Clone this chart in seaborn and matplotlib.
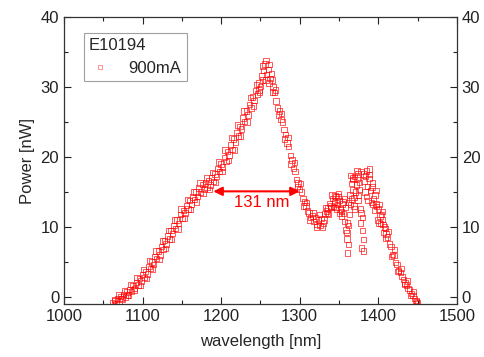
import matplotlib
matplotlib.use("Agg")
import matplotlib.pyplot as plt
import seaborn as sns
import pandas as pd
from matplotlib.ticker import MultipleLocator

wavelength_main = [
    1062, 1064, 1066, 1068, 1070, 1072, 1074, 1076, 1078, 1080,
    1082, 1084, 1086, 1088, 1090, 1092, 1094, 1096, 1098, 1100,
    1102, 1104, 1106, 1108, 1110, 1112, 1114, 1116, 1118, 1120,
    1122, 1124, 1126, 1128, 1130, 1132, 1134, 1136, 1138, 1140,
    1142, 1144, 1146, 1148, 1150, 1152, 1154, 1156, 1158, 1160,
    1162, 1164, 1166, 1168, 1170, 1172, 1174, 1176, 1178, 1180,
    1182, 1184, 1186, 1188, 1190, 1192, 1194, 1196, 1198, 1200,
    1202, 1204, 1206, 1208, 1210, 1212, 1214, 1216, 1218, 1220,
    1222, 1224, 1226, 1228, 1230, 1232, 1234, 1236, 1238, 1240,
    1242, 1244, 1246, 1248, 1250, 1252, 1254, 1256, 1258, 1260,
    1262, 1264, 1266, 1268, 1270, 1272, 1274, 1276, 1278, 1280,
    1282, 1284, 1286, 1288, 1290, 1292, 1294, 1296, 1298, 1300,
    1302, 1304, 1306, 1308, 1310, 1312, 1314, 1316, 1318, 1320,
    1322, 1324, 1326, 1328, 1330, 1332, 1334, 1336, 1338, 1340,
    1342, 1344, 1346, 1348, 1350, 1352, 1354, 1356, 1358, 1360,
    1362, 1364, 1366, 1368, 1370, 1372, 1374, 1376, 1378, 1380,
    1382, 1384, 1386, 1388, 1390, 1392, 1394, 1396, 1398, 1400,
    1402, 1404, 1406, 1408, 1410, 1412, 1414, 1416, 1418, 1420,
    1422, 1424, 1426, 1428, 1430, 1432, 1434, 1436, 1438, 1440,
    1442, 1444, 1446, 1448, 1450,
]
power_main = [
    -0.8, -0.5, -0.9, -0.2, -0.6, 0.1, -0.3, 0.4, 0.0, 0.7,
    0.3, 1.1, 0.8, 1.6, 1.2, 2.1, 1.7, 2.6, 2.3, 3.2,
    2.8, 3.6, 3.3, 4.4, 4.1, 5.0, 4.6, 5.8, 5.5, 6.6,
    6.0, 7.2, 6.8, 8.1, 7.6, 8.7, 8.3, 9.5, 9.1, 10.2,
    9.8, 11.0, 10.5, 11.8, 11.2, 12.4, 12.0, 13.1, 12.6, 13.8,
    13.2, 14.3, 13.9, 15.0, 14.4, 15.6, 15.0, 16.1, 15.4, 16.3,
    15.7, 16.6, 16.0, 17.1, 16.5, 17.6, 17.2, 18.4, 17.9, 19.0,
    18.6, 19.9, 19.4, 20.8, 20.3, 21.7, 21.1, 22.6, 22.1, 23.5,
    23.0, 24.4, 24.0, 25.6, 25.1, 26.6, 26.0, 27.5, 27.0, 28.6,
    28.1, 29.5, 29.0, 30.6, 30.1, 31.6, 32.4, 33.3, 31.8, 32.5,
    31.2, 31.9, 30.0, 29.2, 28.0, 27.0, 26.6, 25.4, 25.0, 23.9,
    23.2, 22.0, 21.5, 20.2, 19.6, 18.4, 17.9, 16.8, 16.3, 15.4,
    15.0, 14.1, 13.6, 13.0, 12.3, 12.0, 11.4, 11.6, 10.8, 11.3,
    10.4, 11.0, 10.2, 11.2, 10.6, 11.9, 12.3, 12.7, 13.4, 13.0,
    14.1, 13.6, 14.3, 13.2, 13.8, 12.6, 13.3, 11.9, 12.8, 8.3,
    13.5, 14.6, 16.2, 15.3, 17.2, 16.0, 17.6, 16.4, 17.9, 9.5,
    16.6, 17.3, 15.8, 16.9, 15.2, 15.7, 14.1, 14.6, 12.9, 12.6,
    11.6, 11.8, 10.4, 10.0, 9.0, 8.6, 7.6, 7.2, 6.1, 5.9,
    4.9, 4.6, 3.8, 3.5, 2.9, 2.5, 2.0, 1.7, 1.2, 1.0,
    0.5, 0.2, -0.2, -0.5, -0.8,
]
wavelength_scatter = [
    1065, 1069, 1073, 1077, 1081, 1085, 1089, 1093, 1097, 1101,
    1105, 1109, 1113, 1117, 1121, 1125, 1129, 1133, 1137, 1141,
    1145, 1149, 1153, 1157, 1161, 1165, 1169, 1173, 1177, 1181,
    1185, 1189, 1193, 1197, 1201, 1205, 1209, 1213, 1217, 1221,
    1225, 1229, 1233, 1237, 1241, 1245, 1249, 1253, 1257, 1261,
    1265, 1269, 1273, 1277, 1281, 1285, 1289, 1293, 1297, 1301,
    1305, 1309, 1313, 1317, 1321, 1325, 1329, 1333, 1337, 1341,
    1345, 1349, 1353, 1357, 1361, 1365, 1369, 1373, 1377, 1381,
    1385, 1389, 1393, 1397, 1401, 1405, 1409, 1413, 1417, 1421,
    1425, 1429, 1433, 1437, 1441, 1445, 1449,
]
power_scatter = [
    -0.4, 0.3, -0.2, 0.9, 0.2, 1.8, 1.0, 2.8, 1.6, 3.9,
    2.6, 5.2, 4.0, 6.6, 5.4, 8.0, 6.9, 9.5, 8.2, 11.0,
    9.7, 12.6, 11.3, 13.9, 12.5, 15.0, 13.6, 16.3, 14.8, 17.0,
    15.4, 17.8, 16.4, 19.3, 17.9, 21.0, 19.5, 22.8, 21.0, 24.6,
    23.0, 26.6, 25.0, 28.5, 27.3, 30.4, 29.2, 33.0, 31.0, 33.2,
    29.3, 29.6, 26.0, 26.2, 22.6, 22.8, 19.0, 19.2, 15.8, 16.2,
    13.0, 13.5, 11.0, 12.0, 10.0, 11.8, 10.0, 12.8, 11.8, 14.6,
    12.8, 14.8, 12.2, 14.0, 10.6, 17.4, 13.0, 17.0, 10.6, 17.6,
    14.4, 18.3, 13.2, 15.2, 10.6, 12.2, 8.4, 9.4, 5.8, 6.8,
    3.6, 4.1, 1.8, 2.3, 0.2, 0.8, -0.7,
]
wavelength_extra = [
    1331, 1335, 1339, 1343, 1345, 1347, 1349, 1351, 1353, 1355,
    1357, 1359, 1361, 1362, 1363, 1365, 1367, 1369, 1371, 1373,
    1375, 1377, 1379, 1381, 1381, 1383, 1385, 1387, 1389, 1391,
    1393, 1395, 1397, 1399, 1401, 1403, 1405, 1407, 1409, 1360,
    1362, 1376, 1378, 1374, 1380, 1366, 1368, 1370, 1257, 1253,
    1261, 1248, 1265,
]
power_extra = [
    11.0, 12.0, 12.8, 12.9, 14.5, 12.6, 14.4, 12.0, 11.6, 13.6,
    10.8, 9.6, 6.3, 7.5, 11.8, 13.2, 17.0, 14.2, 15.0, 18.1,
    14.5, 12.6, 7.0, 6.6, 8.2, 15.0, 18.0, 13.8, 17.5, 13.5,
    16.3, 12.4, 13.3, 11.0, 13.2, 10.5, 11.1, 9.2, 9.8, 9.2,
    10.2, 15.4, 12.0, 13.8, 11.4, 14.0, 16.8, 12.6, 33.8, 31.0,
    30.6, 29.6, 31.0,
]
fwhm_left, fwhm_right, fwhm_level = 1190, 1300, 15.1
fwhm_label = "131 nm"

df = pd.DataFrame({
    "wavelength": wavelength_main + wavelength_scatter + wavelength_extra,
    "power": power_main + power_scatter + power_extra,
})

sns.set_theme(style="ticks")
plt.rcParams["font.family"] = ["Liberation Sans", "DejaVu Sans"]
plt.rcParams["font.size"] = 12

fig = plt.figure(figsize=(4.85, 3.57), dpi=100)
ax = fig.add_axes([0.132, 0.1485, 0.810, 0.8035])

sns.scatterplot(data=df, x="wavelength", y="power", marker="s", s=15,
                color="#ff0000", ax=ax, legend=False)
for coll in ax.collections:
    coll.set_facecolor("none")
    coll.set_edgecolor((1.0, 0.0, 0.0, 0.75))
    coll.set_linewidth(0.6)

ax.set_xlim(1000, 1500)
ax.set_ylim(-1, 40)
ax.xaxis.set_major_locator(MultipleLocator(100))
ax.xaxis.set_minor_locator(MultipleLocator(50))
ax.yaxis.set_major_locator(MultipleLocator(10))
ax.yaxis.set_minor_locator(MultipleLocator(5))
ax.tick_params(which="both", direction="in", top=True, right=True,
               labelright=True, labelsize=12, colors="#222222", width=0.8)
ax.tick_params(which="major", length=5)
ax.tick_params(which="minor", length=3)
for sp in ax.spines.values():
    sp.set_visible(True)
    sp.set_color("#333333")
    sp.set_linewidth(0.9)
ax.set_xlabel("wavelength [nm]", fontsize=12, labelpad=7)
ax.set_ylabel("Power [nW]", fontsize=12, labelpad=4)

ax.annotate("", xy=(fwhm_left, fwhm_level), xytext=(fwhm_right, fwhm_level),
            arrowprops=dict(arrowstyle="<|-|>", color="#ff0000", lw=1.5,
                            mutation_scale=13, shrinkA=0, shrinkB=0))
ax.text((fwhm_left + fwhm_right) / 2 + 7, fwhm_level - 0.5, fwhm_label,
        color="#ff0000", fontsize=12, ha="center", va="top")

handle = plt.Line2D([], [], linestyle="none", marker="s", markersize=2.6,
                    markerfacecolor="none", markeredgecolor="#ff0000",
                    markeredgewidth=0.5, alpha=0.6, label="900mA")
leg = ax.legend(handles=[handle], title="E10194", loc="upper left",
                bbox_to_anchor=(0.05, 0.945), frameon=True, fancybox=False,
                edgecolor="#888888", fontsize=12, title_fontsize=12,
                handlelength=1.4, handletextpad=1.0, borderpad=0.3,
                borderaxespad=0.0)
leg.get_frame().set_linewidth(0.8)
leg._legend_box.align = "left"

fig.savefig("out.png", dpi=100)
